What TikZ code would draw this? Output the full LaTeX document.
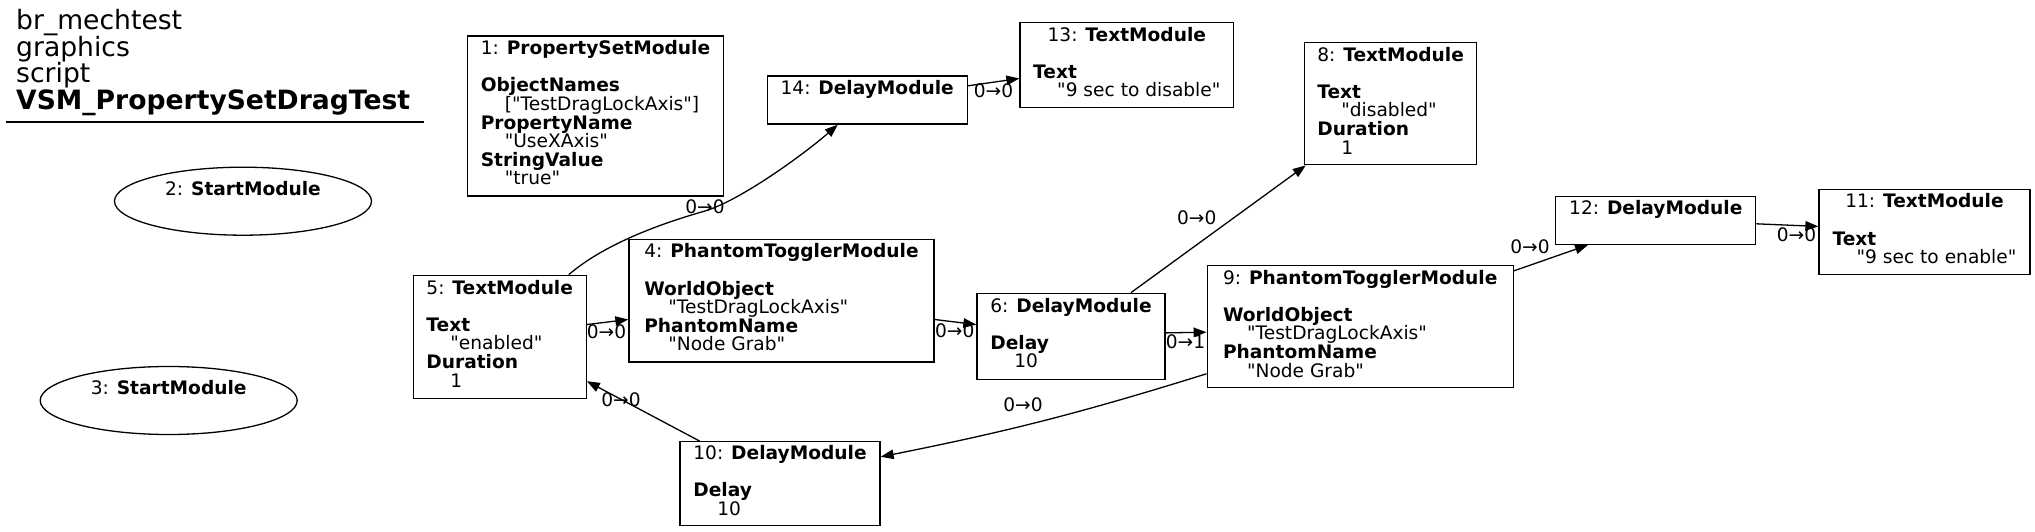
\documentclass[tikz,border=0pt]{standalone}
\usepackage{fontspec}
\setmainfont{DejaVu Sans}[Ligatures=TeXOff]
\usepackage{tikz}
\usetikzlibrary{arrows.meta,shapes.geometric}
\newcommand{\modhead}[2]{\multicolumn{1}{@{}c@{}}{\smash{#1: \textbf{#2}}}}
\newcommand{\modkey}[1]{\smash{\textbf{#1}}}
\newcommand{\modval}[1]{\hspace*{24pt}\smash{#1}}

\begin{document}
\begin{tikzpicture}[x=1pt,y=-1pt,>={Triangle[length=13pt,width=9.5pt]},
    mod/.style={draw,line width=1.3pt,inner sep=0pt,font=\fontsize{18.6}{18.6}\selectfont},
    startmod/.style={mod,ellipse},
    lbl/.style={inner sep=0pt,font=\fontsize{18.6}{18.6}\selectfont},
    conn/.style={->,line width=1.3pt}]
  \useasboundingbox (0,0) rectangle (2035,532);
  \node[anchor=north west,inner sep=0pt,align=left,font=\fontsize{26.6}{26.7}\selectfont] (title) at (16,9)
    {br\_mechtest\\graphics\\script\\\textbf{VSM\_PropertySetDragTest}};
  \coordinate (rule-a) at (6,122);
  \coordinate (rule-b) at (424,122);
  \draw[line width=1.3pt] (rule-a) -- (rule-b);

  \node[mod,minimum width=256,minimum height=160] (n1) at (595.5,116)
    {\begin{tabular}{@{}l@{}}\modhead{1}{PropertySetModule}\\ \\ \modkey{ObjectNames}\\ \modval{["TestDragLockAxis"]}\\ \modkey{PropertyName}\\ \modval{"UseXAxis"}\\ \modkey{StringValue}\\ \modval{"true"}\end{tabular}};
  \node[startmod,minimum width=257,minimum height=68] (n2) at (243,201.2)
    {\begin{tabular}{@{}l@{}}\smash{2: \textbf{StartModule}}\\ ~\end{tabular}};
  \node[startmod,minimum width=257,minimum height=68] (n3) at (168.7,400.5)
    {\begin{tabular}{@{}l@{}}\smash{3: \textbf{StartModule}}\\ ~\end{tabular}};
  \node[mod,minimum width=305,minimum height=122.5] (n4) at (781.5,300.7)
    {\begin{tabular}{@{}l@{}}\modhead{4}{PhantomTogglerModule}\\ \\ \modkey{WorldObject}\\ \modval{"TestDragLockAxis"}\\ \modkey{PhantomName}\\ \modval{"Node Grab"}\end{tabular}};
  \node[mod,minimum width=173,minimum height=123] (n5) at (499.7,336.8)
    {\begin{tabular}{@{}l@{}}\modhead{5}{TextModule}\\ \\ \modkey{Text}\\ \modval{"enabled"}\\ \modkey{Duration}\\ \modval{1}\end{tabular}};
  \node[mod,minimum width=188,minimum height=86] (n6) at (1071,336.2)
    {\begin{tabular}{@{}l@{}}\modhead{6}{DelayModule}\\ \\ \modkey{Delay}\\ \modval{10}\end{tabular}};
  \node[mod,minimum width=172,minimum height=122] (n8) at (1390.6,103.8)
    {\begin{tabular}{@{}l@{}}\modhead{8}{TextModule}\\ \\ \modkey{Text}\\ \modval{"disabled"}\\ \modkey{Duration}\\ \modval{1}\end{tabular}};
  \node[mod,minimum width=306,minimum height=122] (n9) at (1360.2,326.8)
    {\begin{tabular}{@{}l@{}}\modhead{9}{PhantomTogglerModule}\\ \\ \modkey{WorldObject}\\ \modval{"TestDragLockAxis"}\\ \modkey{PhantomName}\\ \modval{"Node Grab"}\end{tabular}};
  \node[mod,minimum width=200,minimum height=84] (n10) at (780,483.8)
    {\begin{tabular}{@{}l@{}}\modhead{10}{DelayModule}\\ \\ \modkey{Delay}\\ \modval{10}\end{tabular}};
  \node[mod,minimum width=211,minimum height=85] (n11) at (1924.5,232)
    {\begin{tabular}{@{}l@{}}\modhead{11}{TextModule}\\ \\ \modkey{Text}\\ \modval{"9 sec to enable"}\end{tabular}};
  \node[mod,minimum width=200,minimum height=48] (n12) at (1655.8,220.3)
    {\begin{tabular}{@{}l@{}}\modhead{12}{DelayModule}\\ ~\end{tabular}};
  \node[mod,minimum width=213.5,minimum height=85] (n13) at (1126.8,65.3)
    {\begin{tabular}{@{}l@{}}\modhead{13}{TextModule}\\ \\ \modkey{Text}\\ \modval{"9 sec to disable"}\end{tabular}};
  \node[mod,minimum width=200,minimum height=48] (n14) at (867.2,100)
    {\begin{tabular}{@{}l@{}}\modhead{14}{DelayModule}\\ ~\end{tabular}};

  \draw[conn] (n5.42) .. controls (608,241) and (670,221) .. (705,211) .. controls (740,200.5) and (803,155) .. (n14.220);
  \draw[conn] (n14.8) -- (n13.187);
  \draw[conn] (n5.8) -- (n4.187);
  \draw[conn] (n4.353) -- (n6.173);
  \draw[conn] (n6.36) -- (n8.216);
  \draw[conn] (n6.2) -- (n9.182);
  \draw[conn] (n9.197) to[bend left=3] (n10.15);
  \draw[conn] (n10.152) -- (n5.333);
  \draw[conn] (n9.20) -- (n12.200);
  \draw[conn] (n12.-2.5) -- (n11.177.5);

  \node[lbl] (l5-14) at (705,207) {0→0};
  \node[lbl] (l14-13) at (993.5,90.7) {0→0};
  \node[lbl] (l5-4) at (606.5,331.7) {0→0};
  \node[lbl] (l4-6) at (954.7,330.7) {0→0};
  \node[lbl] (l6-8) at (1196.7,217.7) {0→0};
  \node[lbl] (l6-9) at (1185.5,341.7) {0→1};
  \node[lbl] (l9-10) at (1023,405) {0→0};
  \node[lbl] (l10-5) at (621,400) {0→0};
  \node[lbl] (l9-12) at (1530,246.7) {0→0};
  \node[lbl] (l12-11) at (1796.5,235) {0→0};
\end{tikzpicture}
\end{document}
